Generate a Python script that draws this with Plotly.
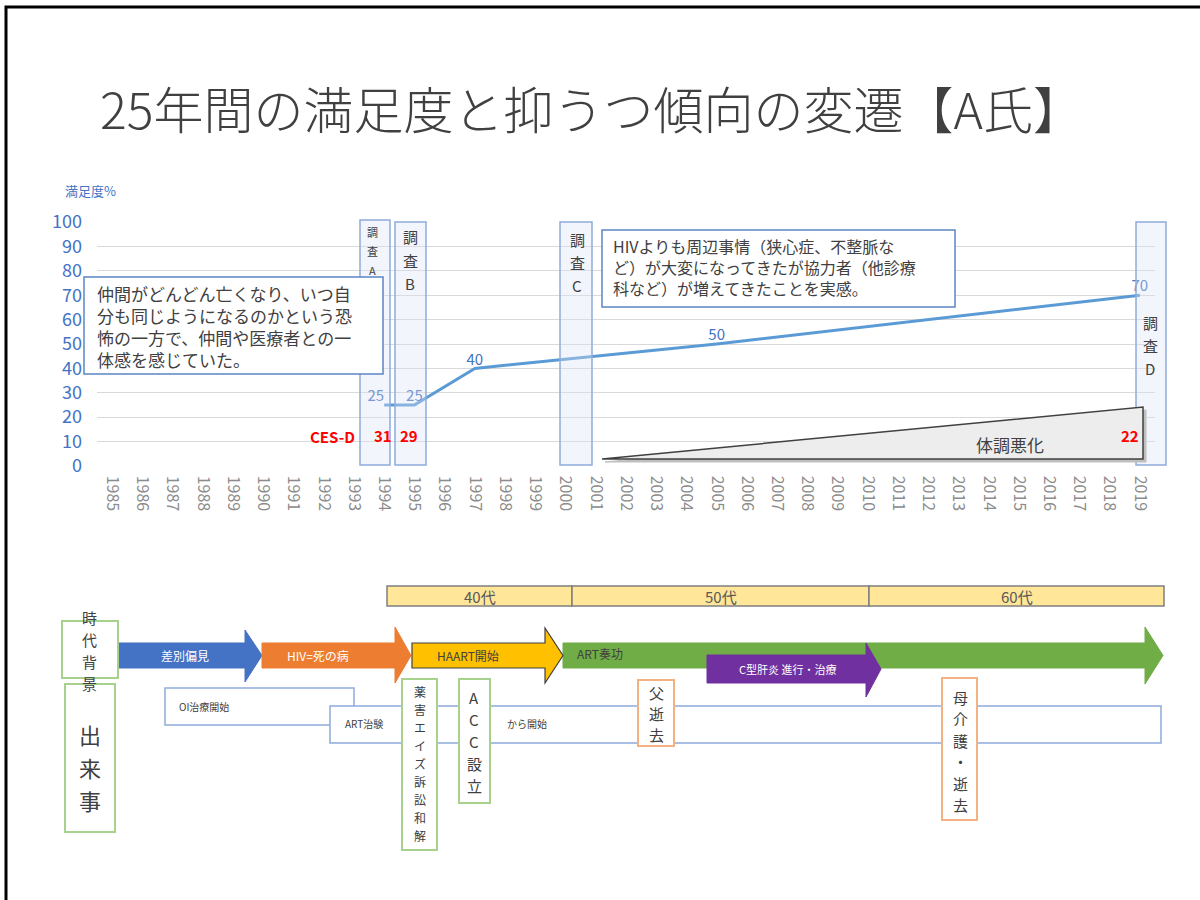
import plotly.graph_objects as go

# --- data ---------------------------------------------------------------
years = [str(y) for y in range(1985, 2020)]

sat_years = ["1994", "1995", "1997", "2005", "2019"]
sat_values = [25, 25, 40, 50, 70]
sat_label_pos = ["top left", "top center", "top center", "top center", "top center"]

cesd_years = ["1994", "1995", "2019"]
cesd_values = [31, 29, 22]

age_labels = ["40代", "50代", "60代"]

comment_early = "仲間がどんどん亡くなり、いつ自<br>分も同じようになるのかという恐<br>怖の一方で、仲間や医療者との一<br>体感を感じていた。"
comment_late = "HIVよりも周辺事情（狭心症、不整脈な<br>ど）が大変になってきたが協力者（他診療<br>科など）が増えてきたことを実感。"

W, H = 1200, 900
FONT = "Noto Sans CJK JP"
TXT = "#404040"
BLUE_TXT = "#4472c4"


def px(x):
    return x / W


def py(y):
    return 1 - y / H


shapes = []
annotations = []


def rect(x0, y0, x1, y1, line, fill="white", width=1.5):
    shapes.append(dict(type="rect", xref="paper", yref="paper",
                       x0=px(x0), x1=px(x1), y0=py(y1), y1=py(y0),
                       line=dict(color=line, width=width), fillcolor=fill))


def text(s, x, y, size=12, color=TXT, anchor="center", weight=None):
    f = dict(family=FONT, size=size, color=color)
    if weight:
        f["weight"] = weight
    annotations.append(dict(text=s, x=px(x), y=py(y), xref="paper", yref="paper",
                            showarrow=False, font=f, xanchor=anchor, yanchor="middle",
                            align="left"))


def vtext(chars, x, y0, step, size, color=TXT):
    for i, ch in enumerate(chars):
        text(ch, x, y0 + i * step, size=size, color=color)


def arrow(x0, xb, xt, yt, yb, ht, hb, fill, line=None, lw=1):
    ym = (yt + yb) / 2
    pts = [(x0, yt), (xb, yt), (xb, ht), (xt, ym), (xb, hb), (xb, yb), (x0, yb)]
    path = "M " + " L ".join(f"{px(a):.5f},{py(b):.5f}" for a, b in pts) + " Z"
    shapes.append(dict(type="path", xref="paper", yref="paper", path=path,
                       fillcolor=fill, line=dict(color=line or fill, width=lw)))


# --- chart --------------------------------------------------------------
fig = go.Figure()

fig.add_trace(go.Scatter(
    x=sat_years, y=sat_values, mode="lines+text",
    text=[str(v) for v in sat_values], textposition=sat_label_pos,
    textfont=dict(family=FONT, size=15, color=BLUE_TXT),
    line=dict(color="#5b9bd5", width=3),
    hoverinfo="skip",
))

# CES-D scores (annotations so they sit above the wedge); category axis -> index
for yr, v, dx in zip(cesd_years, cesd_values, [-1, -5, -10]):
    annotations.append(dict(
        text=str(v), x=years.index(yr), y=12.3, xref="x", yref="y", showarrow=False,
        xanchor="center", yanchor="middle", xshift=dx,
        font=dict(family=FONT, size=15, color="#ff0000", weight="bold"),
    ))

# survey columns
rect(360, 220, 390, 465, "#8faadc", "rgba(218,227,243,0.35)", 1.5)
rect(395, 222, 426, 465, "#8faadc", "rgba(218,227,243,0.35)", 1.5)
rect(560, 222, 592, 465, "#8faadc", "rgba(218,227,243,0.35)", 1.5)
rect(1136, 222, 1166, 465, "#8faadc", "rgba(218,227,243,0.35)", 1.5)
vtext("調査A", 372, 232, 19, 11)
vtext("調査B", 410, 237, 23, 15)
vtext("調査C", 577, 239, 23, 15)
vtext("調査D", 1150, 322, 23, 15)

# comment boxes
rect(84, 277, 383, 374, "#5b86c5", "white", 1.5)
text(comment_early, 95, 326, size=17, anchor="left")
rect(602, 230, 955, 307, "#5b86c5", "white", 1.5)
text(comment_late, 611, 267, size=16, anchor="left")

# declining health wedge
wedge = [(602, 459), (1143, 407), (1143, 459)]
shadow = "M " + " L ".join(f"{px(a + 3):.5f},{py(b + 3):.5f}" for a, b in wedge) + " Z"
shapes.append(dict(type="path", xref="paper", yref="paper", path=shadow,
                   fillcolor="#bfbfbf", line=dict(color="#bfbfbf", width=1)))
path = "M " + " L ".join(f"{px(a):.5f},{py(b):.5f}" for a, b in wedge) + " Z"
shapes.append(dict(type="path", xref="paper", yref="paper", path=path,
                   fillcolor="#ededed", line=dict(color="#404040", width=1.5)))
text("体調悪化", 1010, 444, size=17)

text("CES-D", 357, 436, size=15, color="#ff0000", anchor="right", weight="bold")
text("満足度%", 90, 190, size=13, color=BLUE_TXT)
text("25年間の満足度と抑うつ傾向の変遷【A氏】", 591, 107, size=50, weight=300)

# --- timeline -----------------------------------------------------------
age_edges = [387, 572, 869, 1164]
for i, lab in enumerate(age_labels):
    rect(age_edges[i], 586, age_edges[i + 1], 606, "#7f7f7f", "#ffe699", 1.5)
    text(lab, (age_edges[i] + age_edges[i + 1]) / 2, 596, size=15, color="#595959")

arrow(563, 1145, 1163, 643, 668, 627, 684, "#70ad47")
arrow(117, 245, 262, 643, 668, 630, 682, "#4472c4")
arrow(262, 395, 411, 643, 668, 627, 683, "#ed7d31")
arrow(412, 545, 563, 643, 668, 628, 683, "#ffc000", "#404040", 1.2)
arrow(707, 866, 881, 655, 683, 643, 697, "#7030a0")
text("差別偏見", 185, 655, size=12, color="white")
text("HIV=死の病", 318, 655, size=12, color="white")
text("HAART開始", 468, 655, size=12)
text("ART奏功", 575, 653, size=12, anchor="left")
text("C型肝炎 進行・治療", 787, 669, size=11, color="white")

rect(62, 621, 118, 678, "#a9d18e", "white", 2)
vtext("時代背景", 89, 617, 22, 15)
rect(65, 684, 115, 832, "#a9d18e", "white", 2)
vtext("出来事", 90, 734, 33, 22)

rect(165, 688, 354, 725, "#8faadc", "white", 1.5)
text("OI治療開始", 177, 706, size=10, anchor="left")
rect(330, 706, 1161, 743, "#8faadc", "white", 1.5)
text("ART治験", 343, 723, size=10, anchor="left")
text("から開始", 505, 723, size=10, anchor="left")

rect(402, 679, 437, 850, "#a9d18e", "white", 2)
vtext("薬害エイズ訴訟和解", 420, 691, 18, 12)
rect(459, 679, 490, 803, "#a9d18e", "white", 2)
vtext("ACC設立", 474, 697, 22, 15)
rect(638, 680, 674, 746, "#f4b183", "white", 2)
vtext("父逝去", 656, 692, 21, 15)
rect(942, 678, 977, 820, "#f4b183", "white", 2)
vtext("母介護・逝去", 960, 697, 21.5, 15)

# slide border
shapes.append(dict(type="rect", xref="paper", yref="paper",
                   x0=px(6), x1=1.02, y0=-0.02, y1=py(7),
                   line=dict(color="black", width=3), fillcolor="rgba(0,0,0,0)"))

fig.update_layout(
    template="none",
    width=W, height=H, autosize=False,
    margin=dict(l=0, r=0, t=0, b=0, pad=0),
    paper_bgcolor="white", plot_bgcolor="white",
    showlegend=False,
    font=dict(family=FONT, color=TXT),
    xaxis=dict(type="category", categoryarray=years, categoryorder="array",
               range=[-0.5, len(years) - 0.5], domain=[px(97), px(1155)],
               showgrid=False, zeroline=False, showline=False, ticks="",
               automargin=False,
               tickangle=90, tickfont=dict(family=FONT, size=16, color="#8c8c8c"),
               ticklabelstandoff=8),
    yaxis=dict(range=[-0.3, 100.3], domain=[py(466.7), py(221.3)],
               tickvals=list(range(0, 101, 10)),
               showgrid=True, gridcolor="#d9d9d9", gridwidth=1,
               zeroline=False, showline=False, ticks="", automargin=False,
               tickfont=dict(family=FONT, size=18, color=BLUE_TXT),
               ticklabelstandoff=14),
    shapes=shapes,
    annotations=annotations,
)

fig.write_html("out.html", config={"displayModeBar": False},
               post_script="document.body.style.margin='0px';")
